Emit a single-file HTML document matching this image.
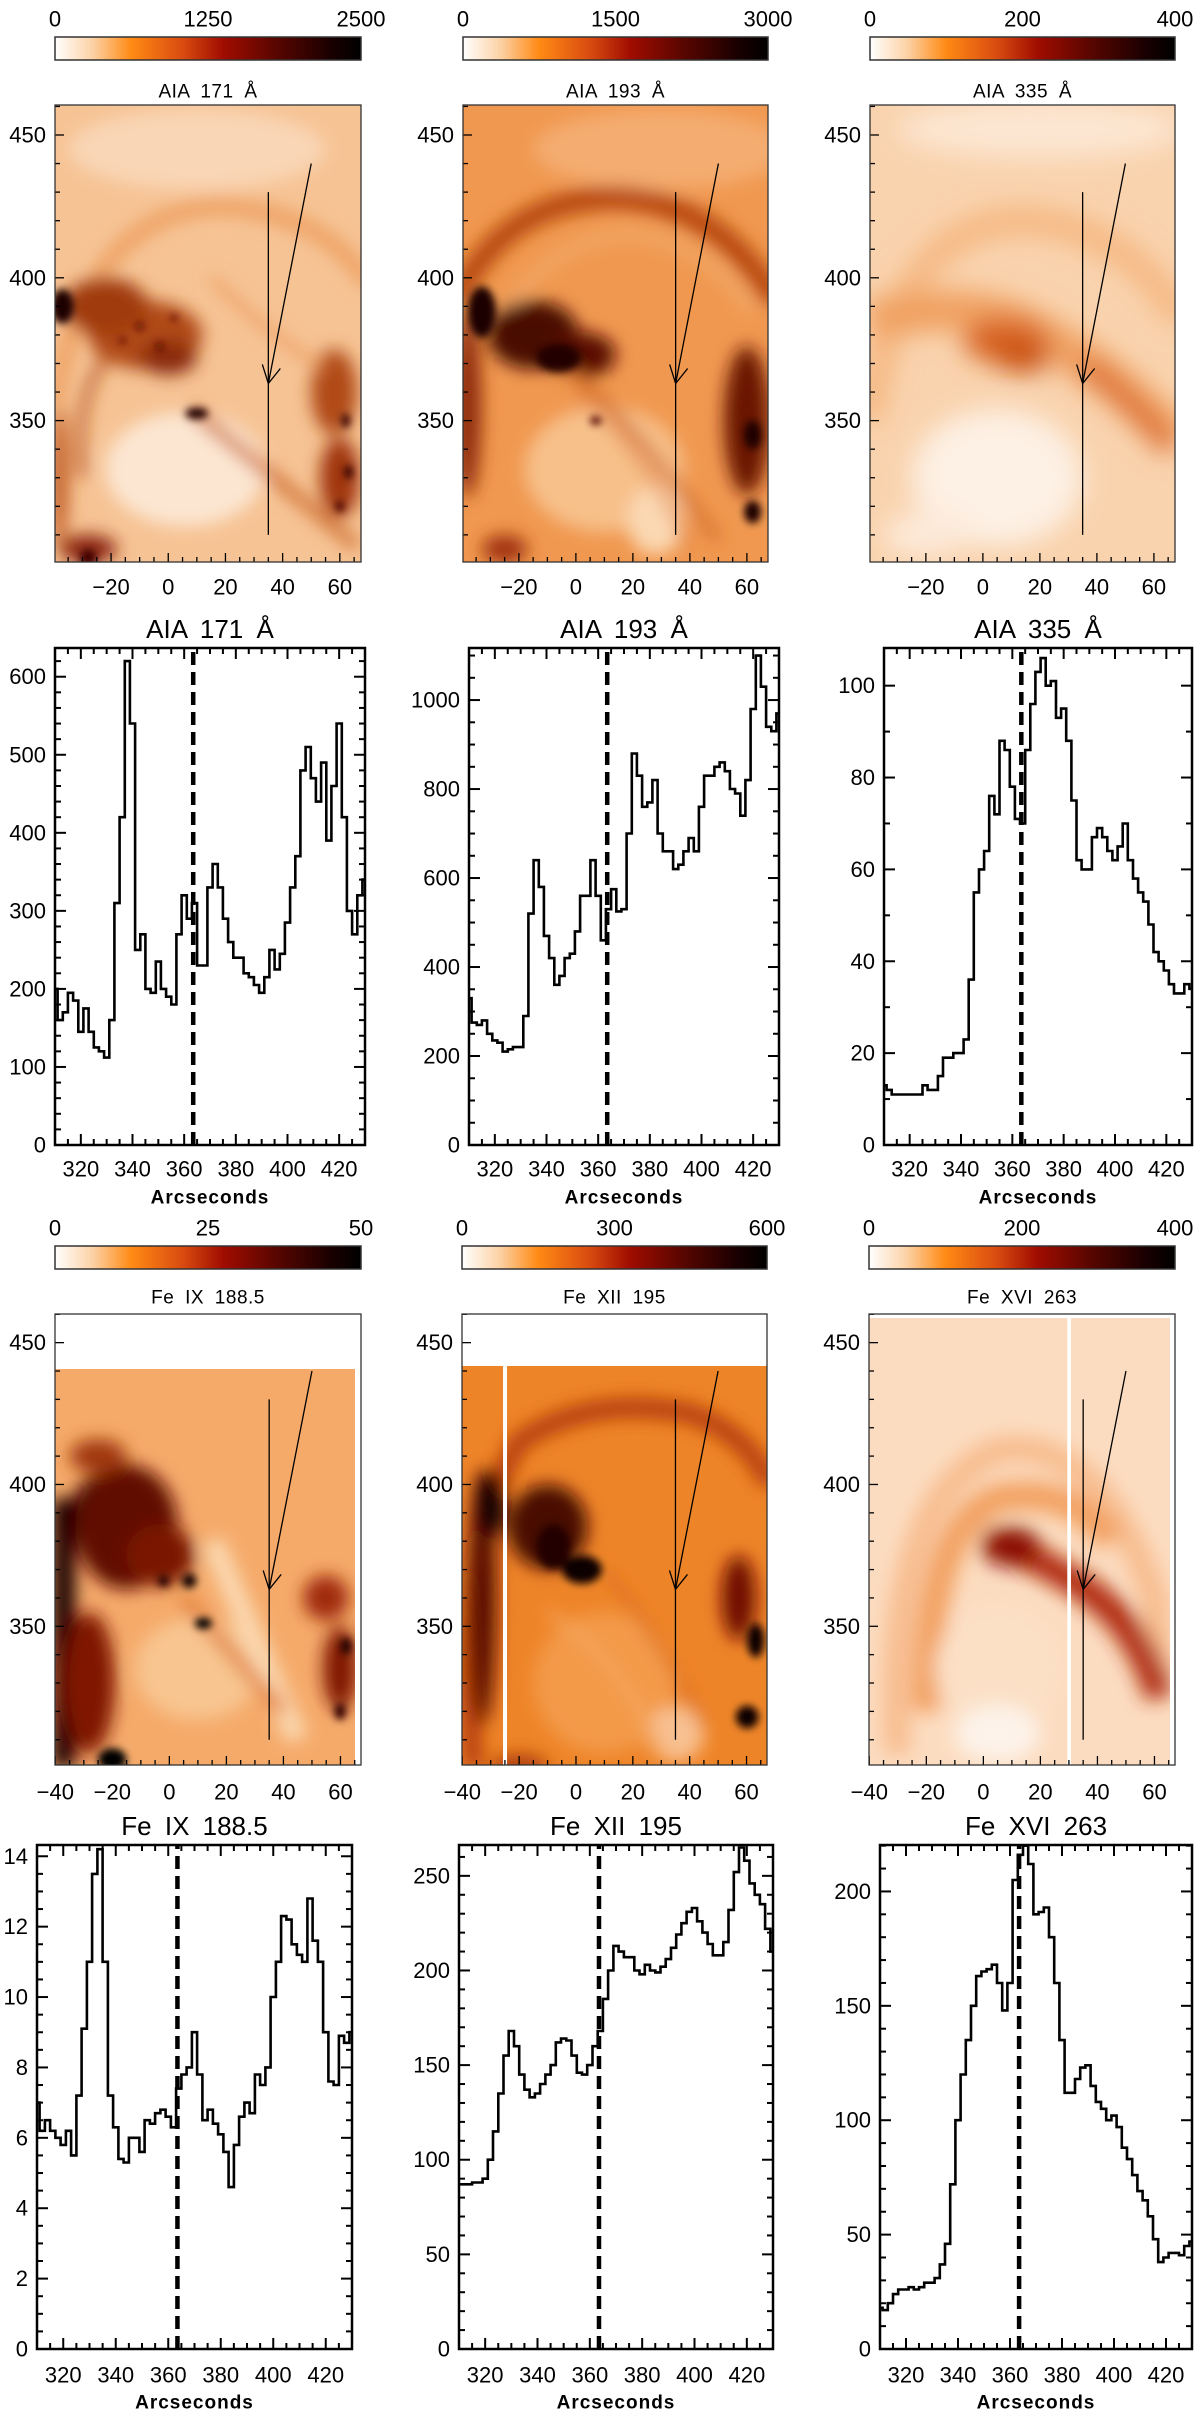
<!DOCTYPE html>
<html><head><meta charset="utf-8">
<style>
html,body{margin:0;padding:0;background:#fff;}
svg{display:block;font-family:"Liberation Sans",sans-serif;}
</style></head>
<body>
<svg id="fig" width="1200" height="2416" viewBox="0 0 1200 2416" xmlns="http://www.w3.org/2000/svg">
<defs>
<linearGradient id="cmap" x1="0" x2="1" y1="0" y2="0">
<stop offset="0" stop-color="#ffffff"/><stop offset="0.12" stop-color="#fcd3a8"/><stop offset="0.25" stop-color="#ff8a14"/>
<stop offset="0.42" stop-color="#d84a10"/><stop offset="0.55" stop-color="#a00c00"/><stop offset="0.72" stop-color="#5a0600"/>
<stop offset="0.9" stop-color="#1a0000"/><stop offset="1" stop-color="#000000"/></linearGradient>
<filter id="b1" x="-30%" y="-30%" width="160%" height="160%"><feGaussianBlur stdDeviation="1.4"/></filter>
<filter id="b2" x="-30%" y="-30%" width="160%" height="160%"><feGaussianBlur stdDeviation="3"/></filter>
<filter id="b3" x="-30%" y="-30%" width="160%" height="160%"><feGaussianBlur stdDeviation="3.5"/></filter>
<filter id="b4" x="-30%" y="-30%" width="160%" height="160%"><feGaussianBlur stdDeviation="4.5"/></filter>
<clipPath id="ci1" clipPathUnits="userSpaceOnUse"><rect x="55" y="105" width="306" height="457"/></clipPath>
<clipPath id="ci2" clipPathUnits="userSpaceOnUse"><rect x="463" y="105" width="305" height="457"/></clipPath>
<clipPath id="ci3" clipPathUnits="userSpaceOnUse"><rect x="870" y="105" width="305" height="457"/></clipPath>
<clipPath id="ci4" clipPathUnits="userSpaceOnUse"><rect x="55" y="1369" width="300" height="396"/></clipPath>
<clipPath id="ci5" clipPathUnits="userSpaceOnUse"><rect x="462" y="1366" width="305" height="399"/></clipPath>
<clipPath id="ci6" clipPathUnits="userSpaceOnUse"><rect x="869" y="1318" width="301" height="447"/></clipPath>
</defs>

<!-- AIA 171 image -->
<g clip-path="url(#ci1)">
<g transform="translate(55,105) scale(2.86,-2.856) translate(39.6,-460.5)">
<rect x="-45" y="295" width="120" height="170" fill="#f6c394"/>
<g filter="url(#b2)">
<ellipse cx="10" cy="445" rx="45" ry="14" fill="#f9d6b6"/>
<path d="M -40 355 Q -28 425 20 425 Q 55 422 70 398" stroke="#ec9a58" stroke-width="6" fill="none" opacity="0.8"/>
<ellipse cx="-8" cy="380" rx="20" ry="12" fill="#b04818"/>
<ellipse cx="-22" cy="390" rx="15" ry="10" fill="#a03a10"/>
<ellipse cx="0" cy="372" rx="10" ry="6" fill="#8a2a08"/>
<ellipse cx="6" cy="333" rx="28" ry="20" fill="#fce6d2"/>
<ellipse cx="58" cy="360" rx="8" ry="15" fill="#b04818"/>
<ellipse cx="60" cy="330" rx="7" ry="14" fill="#a03510"/>
<ellipse cx="-28" cy="305" rx="10" ry="5" fill="#8a2008"/>
<ellipse cx="-38" cy="330" rx="3" ry="25" fill="#c05a20"/>
<path d="M -30 330 Q -34 365 -15 378" stroke="#b04818" stroke-width="2.5" fill="none"/>
<path d="M 8 354 L 66 306" stroke="#d07030" stroke-width="4" fill="none"/>
<path d="M 15 400 Q 35 380 55 368" stroke="#e89050" stroke-width="2" fill="none"/>
</g>
<g filter="url(#b1)">
<ellipse cx="-37" cy="390" rx="4" ry="6" fill="#1a0000"/>
<ellipse cx="10" cy="352.5" rx="4" ry="2" fill="#200000"/>
<ellipse cx="62" cy="350" rx="1.5" ry="2.5" fill="#300000"/>
<ellipse cx="63" cy="332" rx="1.5" ry="2.5" fill="#300000"/>
<ellipse cx="60" cy="320" rx="1.5" ry="2" fill="#400000"/>
<circle cx="-10" cy="383" r="1.5" fill="#5a1000"/><circle cx="-3" cy="376" r="1.5" fill="#5a1000"/>
<circle cx="-16" cy="378" r="1.2" fill="#5a1000"/><circle cx="2" cy="386" r="1.2" fill="#5a1000"/>
<circle cx="-28" cy="302" r="3" fill="#400000"/>
</g></g></g>

<!-- AIA 193 image -->
<g clip-path="url(#ci2)">
<g transform="translate(463,105) scale(2.85,-2.856) translate(39.6,-460.5)">
<rect x="-45" y="295" width="120" height="170" fill="#f09850"/>
<g filter="url(#b2)">
<ellipse cx="30" cy="445" rx="45" ry="14" fill="#f4ac70"/>
<path d="M -42 392 Q -25 428 15 428 Q 50 426 70 392" stroke="#b84a10" stroke-width="8" fill="none"/>
<path d="M -30 380 Q -10 415 20 415 Q 45 413 62 388" stroke="#f3a868" stroke-width="4" fill="none"/>
<ellipse cx="-15" cy="380" rx="16" ry="12" fill="#4a0a00"/>
<ellipse cx="2" cy="373" rx="12" ry="8" fill="#5a1000"/>
<ellipse cx="-38" cy="355" rx="5" ry="32" fill="#902e08"/>
<ellipse cx="10" cy="333" rx="28" ry="22" fill="#f7c08a"/>
<ellipse cx="28" cy="315" rx="10" ry="12" fill="#fbd8b2"/>
<ellipse cx="60" cy="350" rx="8" ry="26" fill="#6a1400"/>
<ellipse cx="-25" cy="305" rx="8" ry="5" fill="#a03010"/>
<path d="M -5 370 Q 20 350 50 308" stroke="#d06a28" stroke-width="3" fill="none"/>
<path d="M 0 360 Q 25 340 40 305" stroke="#e07a30" stroke-width="2" fill="none"/>
</g>
<g filter="url(#b1)">
<ellipse cx="-33" cy="388" rx="5" ry="9" fill="#1a0000"/>
<ellipse cx="-6" cy="372" rx="8" ry="5" fill="#200000"/>
<ellipse cx="62" cy="345" rx="3" ry="5" fill="#1a0000"/>
<ellipse cx="62" cy="318" rx="3" ry="4" fill="#1a0000"/>
<ellipse cx="7" cy="350" rx="2" ry="1.5" fill="#500000"/>
</g></g></g>

<!-- AIA 335 image -->
<g clip-path="url(#ci3)">
<g transform="translate(870,105) scale(2.85,-2.856) translate(39.6,-460.5)">
<rect x="-45" y="295" width="120" height="170" fill="#f9d3ae"/>
<g filter="url(#b4)">
<ellipse cx="20" cy="452" rx="50" ry="10" fill="#fce6d2"/>
<path d="M -40 350 Q -30 420 15 420 Q 50 418 70 385" stroke="#f5b882" stroke-width="10" fill="none"/>
<path d="M -40 385 Q -10 392 10 385 Q 40 372 68 343" stroke="#f0a060" stroke-width="14" fill="none"/>
<ellipse cx="8" cy="378" rx="15" ry="8" fill="#d86424"/>
<ellipse cx="14" cy="372" rx="10" ry="5" fill="#c85010"/>
<path d="M 35 370 Q 50 360 66 340" stroke="#d86020" stroke-width="6" fill="none"/>
<ellipse cx="5" cy="330" rx="30" ry="24" fill="#fdf0e4"/>
<ellipse cx="-20" cy="310" rx="15" ry="8" fill="#fde9d8"/>
</g></g></g>

<!-- Fe IX image -->
<g clip-path="url(#ci4)">
<g transform="translate(55,1314) scale(2.849,-2.836) translate(40.1,-460.1)">
<rect x="-45" y="295" width="120" height="170" fill="#f5aa6a"/>
<g filter="url(#b2)">
<rect x="-41" y="300" width="8" height="95" fill="#1a0000"/>
<ellipse cx="-25" cy="390" rx="9" ry="13" fill="#100000"/>
<ellipse cx="-15" cy="385" rx="18" ry="22" fill="#601000"/>
<ellipse cx="-3" cy="375" rx="12" ry="11" fill="#7a1800"/>
<ellipse cx="-25" cy="410" rx="10" ry="6" fill="#a03810"/>
<ellipse cx="-28" cy="330" rx="9" ry="25" fill="#801400"/>
<ellipse cx="10" cy="335" rx="22" ry="18" fill="#f8c590"/>
<path d="M 15 380 L 45 310" stroke="#fbd8b0" stroke-width="8" fill="none"/>
<path d="M 5 360 L 40 320" stroke="#e07a30" stroke-width="4" fill="none"/>
<ellipse cx="55" cy="360" rx="8" ry="8" fill="#a02a08"/>
<ellipse cx="60" cy="335" rx="6" ry="15" fill="#801800"/>
</g>
<g filter="url(#b1)">
<ellipse cx="-20" cy="303" rx="5" ry="4" fill="#000"/>
<circle cx="-2" cy="366" r="2" fill="#200000"/><circle cx="7" cy="366" r="2.5" fill="#100000"/>
<ellipse cx="12" cy="351" rx="3" ry="2" fill="#000"/>
<ellipse cx="62" cy="343" rx="2" ry="3" fill="#200000"/><ellipse cx="60" cy="320" rx="2" ry="3" fill="#300000"/>
</g></g></g>

<!-- Fe XII image -->
<g clip-path="url(#ci5)">
<g transform="translate(462,1314) scale(2.849,-2.836) translate(40.1,-460.1)">
<rect x="-45" y="295" width="120" height="170" fill="#ee8428"/>
<g filter="url(#b2)">
<path d="M -36 300 Q -42 380 -20 415 Q 5 432 40 425 Q 60 418 68 400" stroke="#b84010" stroke-width="7" fill="none"/>
<ellipse cx="-33" cy="360" rx="5" ry="45" fill="#5a0a00"/>
<ellipse cx="-30" cy="393" rx="5" ry="12" fill="#100000"/>
<ellipse cx="-10" cy="385" rx="14" ry="15" fill="#4a0800"/>
<ellipse cx="10" cy="330" rx="25" ry="25" fill="#f39a48"/>
<ellipse cx="35" cy="312" rx="10" ry="10" fill="#f8c090"/>
<path d="M -10 355 Q 15 340 30 305" stroke="#f5a860" stroke-width="2.5" fill="none"/>
<path d="M 10 370 Q 30 345 45 315" stroke="#d8661c" stroke-width="2" fill="none"/>
<ellipse cx="57" cy="360" rx="6" ry="15" fill="#701000"/>
<ellipse cx="-20" cy="300" rx="10" ry="5" fill="#b04010"/>
</g>
<g filter="url(#b1)">
<ellipse cx="2" cy="370" rx="7" ry="5" fill="#100000"/>
<ellipse cx="-8" cy="378" rx="6" ry="8" fill="#200000"/>
<ellipse cx="63" cy="345" rx="3" ry="6" fill="#100000"/>
<ellipse cx="60" cy="318" rx="4" ry="4" fill="#100000"/>
</g>
<rect x="-25.7" y="295" width="1.4" height="150" fill="#fff"/>
</g></g>

<!-- Fe XVI image -->
<g clip-path="url(#ci6)">
<g transform="translate(869,1314) scale(2.849,-2.836) translate(40.1,-460.1)">
<rect x="-45" y="295" width="120" height="170" fill="#fcdcc0"/>
<g filter="url(#b3)">
<path d="M -30 305 Q -35 395 5 412 Q 40 418 60 360 L 62 330" stroke="#f7bc8e" stroke-width="9" fill="none"/>
<path d="M -20 320 Q -20 385 5 395 Q 30 400 45 380" stroke="#f2a060" stroke-width="10" fill="none"/>
<path d="M 0 380 Q 20 375 40 360 Q 55 348 62 325" stroke="#b02a08" stroke-width="10" fill="none"/>
<ellipse cx="10" cy="378" rx="10" ry="7" fill="#8a1000"/>
<ellipse cx="5" cy="335" rx="22" ry="22" fill="#fbe0c6"/>
<ellipse cx="5" cy="312" rx="15" ry="10" fill="#fdf3ea"/>
</g>
<rect x="29.5" y="295" width="1.3" height="170" fill="#fff"/>
</g></g>

<g id="dyn"></g>
</svg>

<script>
// ----- data: profile samples along the slit (arcseconds) -----
const xs = [310,312,314,316,318,320,322,324,326,328,330,332,334,336,338,340,342,344,346,348,350,352,354,356,358,360,362,364,366,368,370,372,374,376,378,380,382,384,386,388,390,392,394,396,398,400,402,404,406,408,410,412,414,416,418,420,422,424,426,428,430];
const v171 = [200,160,170,195,185,145,175,145,125,120,112,160,310,420,620,540,250,270,200,195,235,200,190,180,270,320,290,310,230,230,330,360,330,290,260,240,240,220,215,205,195,215,250,225,245,285,330,370,480,510,470,440,490,390,460,540,420,300,270,320,340];
const v193 = [330,275,270,280,250,235,230,210,215,220,220,290,520,640,580,470,420,360,380,420,430,480,560,560,640,560,460,530,575,525,530,700,880,830,760,770,820,700,660,660,620,630,660,690,660,760,830,830,850,860,840,800,790,740,820,980,1100,1030,940,930,970];
const v335 = [13,12,11,11,11,11,11,11,13,12,12,15,19,19,20,20,23,36,55,60,64,76,72,88,86,78,71,70,86,96,103,106,100,101,93,95,88,75,62,60,60,67,69,67,64,62,65,70,62,58,55,53,48,42,40,38,35,33,33,35,34];
const vFe9 = [7,6.2,6.5,6.2,6.0,5.8,6.2,5.5,7.2,9.1,11,13.5,14.2,11,7.2,6.3,5.4,5.3,6.0,6.0,5.6,6.5,6.4,6.7,6.8,6.6,6.3,7.4,7.8,8.0,9.0,7.8,6.5,6.8,6.4,6.1,5.6,4.6,5.8,6.6,7.0,6.7,7.8,7.5,8.0,10.0,11.0,12.3,12.2,11.5,11.2,11.0,12.8,11.6,11.0,9.0,7.6,7.5,8.9,8.7,9.0];
const vFe12 = [87,87,87,88,88,90,100,115,135,155,168,160,145,137,133,135,140,145,150,162,164,163,155,146,145,150,160,168,185,200,213,210,207,207,200,198,203,200,199,202,206,212,219,225,231,233,226,220,214,208,208,215,232,252,265,258,246,240,235,222,210];
const vFe16 = [18,17,20,24,26,26,27,26,27,29,29,31,37,46,72,100,120,135,150,163,165,166,168,160,148,160,205,216,220,212,190,191,193,180,160,135,112,112,118,123,124,115,108,105,100,102,97,88,83,76,69,65,58,48,38,40,42,42,41,45,47];
const slitPos = [363.5,363.5,363.5,363.5,363.5,363.5];
const xTickVals = [320,340,360,380,400,420];
const yt171 = [0,100,200,300,400,500,600];
const yt193 = [0,200,400,600,800,1000];
const yt335 = [0,20,40,60,80,100];
const ytFe9 = [0,2,4,6,8,10,12,14];
const ytFe12 = [0,50,100,150,200,250];
const ytFe16 = [0,50,100,150,200];
const cbLabels1 = ["0","1250","2500"];
const cbLabels2 = ["0","1500","3000"];
const cbLabels3 = ["0","200","400"];
const cbLabels4 = ["0","25","50"];
const cbLabels5 = ["0","300","600"];
const cbLabels6 = ["0","200","400"];
const imgYTicks = [350,400,450];
const imgXTicksTop = [-20,0,20,40,60];
const imgXTicksBottom = [-40,-20,0,20,40,60];
const slitX = [35,35];
const slitY = [430,310];
const arrowFrom = [50,440];
const arrowTo = [35,363];

const NS = "http://www.w3.org/2000/svg";
const root = document.getElementById('dyn');
function mk(tag, attrs, parent){
  const e = document.createElementNS(NS, tag);
  for (const k in attrs) e.setAttribute(k, attrs[k]);
  (parent||root).appendChild(e);
  return e;
}
function txt(s, x, y, size, anchor, parent, extra){
  const t = mk('text', Object.assign({x:x, y:y, 'font-size':size, 'text-anchor':anchor||'middle', 'dominant-baseline':'central', fill:'#000'}, extra||{}), parent);
  t.textContent = s;
  return t;
}

// ---------- profile plots ----------
function drawPlot(name, L, R, T, B, ymax, vals, yTicks, yMinor, title, rowTitleY, tickY, labY, slit){
  const g = mk('g', {});
  
  
  const sx = v => L + (v - 310) / 120 * (R - L);
  const sy = v => B - v / ymax * (B - T);
  const tt = txt(title, (L+R)/2, rowTitleY, 26, 'middle', g, {'word-spacing':'6'});
  
  
  for (let v = 310; v <= 430; v += 5){
    const major = (v % 20 === 0);
    const len = major ? 11 : 6;
    mk('line', {x1:sx(v), x2:sx(v), y1:B, y2:B-len, stroke:'#000','stroke-width':2}, g);
    mk('line', {x1:sx(v), x2:sx(v), y1:T, y2:T+len, stroke:'#000','stroke-width':2}, g);
  }
  xTickVals.forEach(v => {
    const t = txt(String(v), sx(v), tickY, 22, 'middle', g);
    
    
  });
  for (let v = 0; v <= ymax + 1e-9; v += yMinor){
    const major = yTicks.some(t => Math.abs(t - v) < 1e-6);
    const len = major ? 11 : 6;
    mk('line', {x1:L, x2:L+len, y1:sy(v), y2:sy(v), stroke:'#000','stroke-width':2}, g);
    mk('line', {x1:R, x2:R-len, y1:sy(v), y2:sy(v), stroke:'#000','stroke-width':2}, g);
  }
  yTicks.forEach(v => {
    const t = txt(String(v), L - 9, sy(v), 22, 'end', g);
    
    
  });
  const xl = txt('Arcseconds', (L+R)/2, labY, 19, 'middle', g, {'font-weight':'bold','letter-spacing':'1'});
  
  
  const cid = 'clip-' + name;
  const cp = mk('clipPath', {id:cid}, g);
  mk('rect', {x:L, y:T, width:R-L, height:B-T}, cp);
  const dl = mk('line', {x1:sx(slit), x2:sx(slit), y1:B, y2:T, stroke:'#000','stroke-width':4.5,'stroke-dasharray':'13 7','clip-path':'url(#'+cid+')'}, g);
  
  
  let d = '';
  for (let i = 0; i < xs.length; i++){
    const xa = i === 0 ? xs[0] - (xs[1]-xs[0])/2 : (xs[i-1] + xs[i]) / 2;
    const xb = i === xs.length-1 ? xs[i] + (xs[i]-xs[i-1])/2 : (xs[i] + xs[i+1]) / 2;
    d += (i === 0 ? 'M' : 'L') + sx(xa).toFixed(1) + ' ' + sy(vals[i]).toFixed(1) + ' L' + sx(xb).toFixed(1) + ' ' + sy(vals[i]).toFixed(1) + ' ';
  }
  const p = mk('path', {d:d, fill:'none', stroke:'#000','stroke-width':2.6,'stroke-linejoin':'miter','clip-path':'url(#'+cid+')'}, g);
  
  
  const fr = mk('rect', {x:L, y:T, width:R-L, height:B-T, fill:'none', stroke:'#000','stroke-width':2.5}, g);
  
  
}
drawPlot('aia171', 55, 365, 648, 1145, 636.8, v171, yt171, 20, 'AIA 171 Å', 629, 1169, 1198, slitPos[0]);
drawPlot('aia193', 469, 779, 648, 1145, 1117, v193, yt193, 50, 'AIA 193 Å', 629, 1169, 1198, slitPos[1]);
drawPlot('aia335', 884, 1192, 648, 1145, 108.2, v335, yt335, 10, 'AIA 335 Å', 629, 1169, 1198, slitPos[2]);
drawPlot('fe9', 37, 352, 1845, 2349, 14.32, vFe9, ytFe9, 0.5, 'Fe IX 188.5', 1826, 2375, 2403, slitPos[3]);
drawPlot('fe12', 459, 773, 1845, 2349, 266.3, vFe12, ytFe12, 10, 'Fe XII 195', 1826, 2375, 2403, slitPos[4]);
drawPlot('fe16', 880, 1192, 1845, 2349, 220.3, vFe16, ytFe16, 10, 'Fe XVI 263', 1826, 2375, 2403, slitPos[5]);

// ---------- image panels: axes, colorbars, slit arrows ----------
function drawImageAxes(name, L, T, W, H, x0, x1, y0, y1, title, cbLabels, cbY, cbLabY, titleY, tickY, xLabels){
  const g = mk('g', {});
  
  
  const sx = v => L + (v - x0) / (x1 - x0) * W;
  const sy = v => T + (y1 - v) / (y1 - y0) * H;
  const cb = mk('rect', {x:L, y:cbY, width:W, height:23, fill:'url(#cmap)', stroke:'#333','stroke-width':1.5}, g);
  
  
  cbLabels.forEach((s, i) => {
    const t = txt(s, L + i * W / 2, cbLabY, 22, 'middle', g);
    
    
  });
  const tt = txt(title, L + W/2, titleY, 19, 'middle', g, {'word-spacing':'5','letter-spacing':'0.5'});
  
  
  for (let v = -40; v <= 65; v += 5){
    if (v < x0 - 1e-6 || v > x1) continue;
    const len = (v % 20 === 0) ? 9 : 5;
    mk('line', {x1:sx(v), x2:sx(v), y1:T+H, y2:T+H-len, stroke:'#000','stroke-width':1.3}, g);
  }
  xLabels.forEach(v => {
    const t = txt(v < 0 ? '\u2212' + Math.abs(v) : String(v), sx(v), tickY, 22, 'middle', g);
    
    
  });
  for (let v = 310; v <= 460; v += 10){
    const len = (v % 50 === 0) ? 9 : 5;
    mk('line', {x1:L, x2:L+len, y1:sy(v), y2:sy(v), stroke:'#000','stroke-width':1.3}, g);
  }
  imgYTicks.forEach(v => {
    const t = txt(String(v), L - 9, sy(v), 22, 'end', g);
    
    
  });
  const sl = mk('line', {x1:sx(slitX[0]), x2:sx(slitX[1]), y1:sy(slitY[0]), y2:sy(slitY[1]), stroke:'#000','stroke-width':1.3}, g);
  
  
  const ar = mk('line', {x1:sx(arrowFrom[0]), y1:sy(arrowFrom[1]), x2:sx(arrowTo[0]), y2:sy(arrowTo[1]), stroke:'#000','stroke-width':1.3}, g);
  
  
  const hx = sx(arrowTo[0]), hy = sy(arrowTo[1]);
  mk('polyline', {points:(hx-6)+','+(hy-19)+' '+hx+','+hy+' '+(hx+12)+','+(hy-15), fill:'none', stroke:'#000','stroke-width':1.3}, g);
  const fr = mk('rect', {x:L, y:T, width:W, height:H, fill:'none', stroke:'#333','stroke-width':1.3}, g);
  
  
}
drawImageAxes('aia171', 55, 105, 306, 457, -39.6, 67.4, 300.5, 460.5, 'AIA 171 Å', cbLabels1, 37, 19, 92, 587, imgXTicksTop);
drawImageAxes('aia193', 463, 105, 305, 457, -39.6, 67.4, 300.5, 460.5, 'AIA 193 Å', cbLabels2, 37, 19, 92, 587, imgXTicksTop);
drawImageAxes('aia335', 870, 105, 305, 457, -39.6, 67.4, 300.5, 460.5, 'AIA 335 Å', cbLabels3, 37, 19, 92, 587, imgXTicksTop);
drawImageAxes('fe9', 55, 1314, 306, 451, -40.1, 67.2, 301.1, 460.1, 'Fe IX 188.5', cbLabels4, 1246, 1228, 1298, 1792, imgXTicksBottom);
drawImageAxes('fe12', 462, 1314, 305, 451, -40.1, 67.2, 301.1, 460.1, 'Fe XII 195', cbLabels5, 1246, 1228, 1298, 1792, imgXTicksBottom);
drawImageAxes('fe16', 869, 1314, 306, 451, -40.1, 67.2, 301.1, 460.1, 'Fe XVI 263', cbLabels6, 1246, 1228, 1298, 1792, imgXTicksBottom);
</script>
</body></html>
